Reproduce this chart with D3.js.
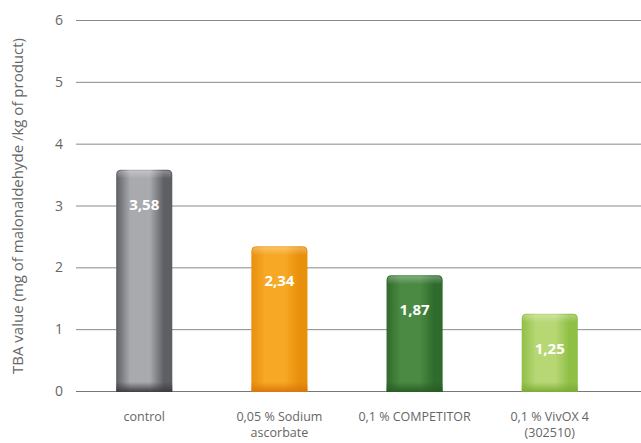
<!DOCTYPE html>
<html>
<head>
<meta charset="utf-8">
<script src="https://cdn.jsdelivr.net/npm/d3@7"></script>
<style>
  body { margin: 0; background: #fff; }
  text { font-family: "Open Sans", "Noto Sans", sans-serif; }
</style>
</head>
<body>
<svg class="plot" width="641" height="443"></svg>
<script>
// data
var categories = [["control"], ["0,05 % Sodium", "ascorbate"], ["0,1 % COMPETITOR"], ["0,1 % VivOX 4", "(302510)"]];
var values = [3.58, 2.34, 1.87, 1.25];
var labels = ["3,58", "2,34", "1,87", "1,25"];
var yTicks = [0, 1, 2, 3, 4, 5, 6];

// colours per bar: edge, mid, bottom
var barColors = [
  {edge: "#5e5f63", mid: "#a9aaae", bottom: "#3a3a3c"},
  {edge: "#e8900c", mid: "#f7a824", bottom: "#d9740a"},
  {edge: "#2f6b2c", mid: "#4a8a42", bottom: "#285a25"},
  {edge: "#8fbf45", mid: "#b7d775", bottom: "#7aab35"}
];

var svg = d3.select(".plot");

var x = d3.scaleBand()
    .domain(d3.range(values.length))
    .range([77, 617])
    .paddingInner(0.585)
    .paddingOuter(0.29);

var y = d3.scaleLinear()
    .domain([0, 6])
    .range([391, 20]);

var defs = svg.append("defs");

barColors.forEach(function(c, i) {
  var g = defs.append("linearGradient").attr("id", "h" + i)
      .attr("x1", "0").attr("x2", "1").attr("y1", "0").attr("y2", "0");
  g.append("stop").attr("offset", "0").attr("stop-color", c.edge);
  g.append("stop").attr("offset", "0.25").attr("stop-color", c.mid);
  g.append("stop").attr("offset", "0.6").attr("stop-color", c.mid);
  g.append("stop").attr("offset", "0.85").attr("stop-color", c.edge);
  g.append("stop").attr("offset", "1").attr("stop-color", c.edge);

  var v = defs.append("linearGradient").attr("id", "b" + i)
      .attr("x1", "0").attr("x2", "0").attr("y1", "0").attr("y2", "1");
  v.append("stop").attr("offset", "0").attr("stop-color", c.bottom).attr("stop-opacity", 0);
  v.append("stop").attr("offset", "1").attr("stop-color", c.bottom).attr("stop-opacity", 0.95);

  var t = defs.append("linearGradient").attr("id", "t" + i)
      .attr("x1", "0").attr("x2", "0").attr("y1", "0").attr("y2", "1");
  t.append("stop").attr("offset", "0").attr("stop-color", "#fff").attr("stop-opacity", 0.3);
  t.append("stop").attr("offset", "1").attr("stop-color", "#fff").attr("stop-opacity", 0);
});

// grid lines
svg.append("g").selectAll("line")
  .data(yTicks)
  .enter().append("line")
    .attr("x1", 76).attr("x2", 641)
    .attr("y1", d => y(d) + 0.5).attr("y2", d => y(d) + 0.5)
    .attr("stroke", d => d === 0 ? "#777" : "#8a8a8a")
    .attr("stroke-width", 1);

// y tick labels
svg.append("g").selectAll("text")
  .data(yTicks)
  .enter().append("text")
    .attr("x", 63)
    .attr("y", d => y(d) + 5)
    .attr("text-anchor", "end")
    .attr("font-size", 14)
    .attr("fill", "#666")
    .text(d => d);

// y axis title
svg.append("text")
  .attr("transform", "translate(23,206) rotate(-90)")
  .attr("text-anchor", "middle")
  .attr("font-size", 15)
  .attr("fill", "#666")
  .text("TBA value (mg of malonaldehyde /kg of product)");

// rounded top only
function barPath(d, i) {
  var x0 = x(i), w = x.bandwidth(), top = y(d), base = y(0) + 1, r = 5;
  return "M" + x0 + "," + base +
    "V" + (top + r) + "Q" + x0 + "," + top + " " + (x0 + r) + "," + top +
    "H" + (x0 + w - r) + "Q" + (x0 + w) + "," + top + " " + (x0 + w) + "," + (top + r) +
    "V" + base + "Z";
}

var bars = svg.append("g").selectAll("g")
  .data(values)
  .enter().append("g");

bars.append("path")
  .attr("d", barPath)
  .attr("fill", (d, i) => "url(#h" + i + ")");

// light top cap
bars.append("rect")
  .attr("x", (d, i) => x(i) + 1)
  .attr("y", d => y(d) + 1)
  .attr("width", x.bandwidth() - 2)
  .attr("height", 8)
  .attr("rx", 4)
  .attr("fill", (d, i) => "url(#t" + i + ")");

// dark foot
bars.append("rect")
  .attr("x", (d, i) => x(i))
  .attr("y", y(0) - 9)
  .attr("width", x.bandwidth())
  .attr("height", 10)
  .attr("fill", (d, i) => "url(#b" + i + ")");

bars.append("text")
  .attr("x", (d, i) => x(i) + x.bandwidth() / 2)
  .attr("y", d => y(d) + 40)
  .attr("text-anchor", "middle")
  .attr("font-size", 15)
  .attr("font-weight", "bold")
  .attr("fill", "#fff")
  .text((d, i) => labels[i]);

// category labels
var cat = svg.append("g").selectAll("text")
  .data(categories)
  .enter().append("text")
    .attr("x", (d, i) => x(i) + x.bandwidth() / 2)
    .attr("y", 421)
    .attr("text-anchor", "middle")
    .attr("font-size", 12.5)
    .attr("fill", "#666");

cat.selectAll("tspan")
  .data(d => d)
  .enter().append("tspan")
    .attr("x", function() { return d3.select(this.parentNode).attr("x"); })
    .attr("dy", (d, j) => j === 0 ? 0 : 16)
    .text(d => d);
</script>
</body>
</html>
